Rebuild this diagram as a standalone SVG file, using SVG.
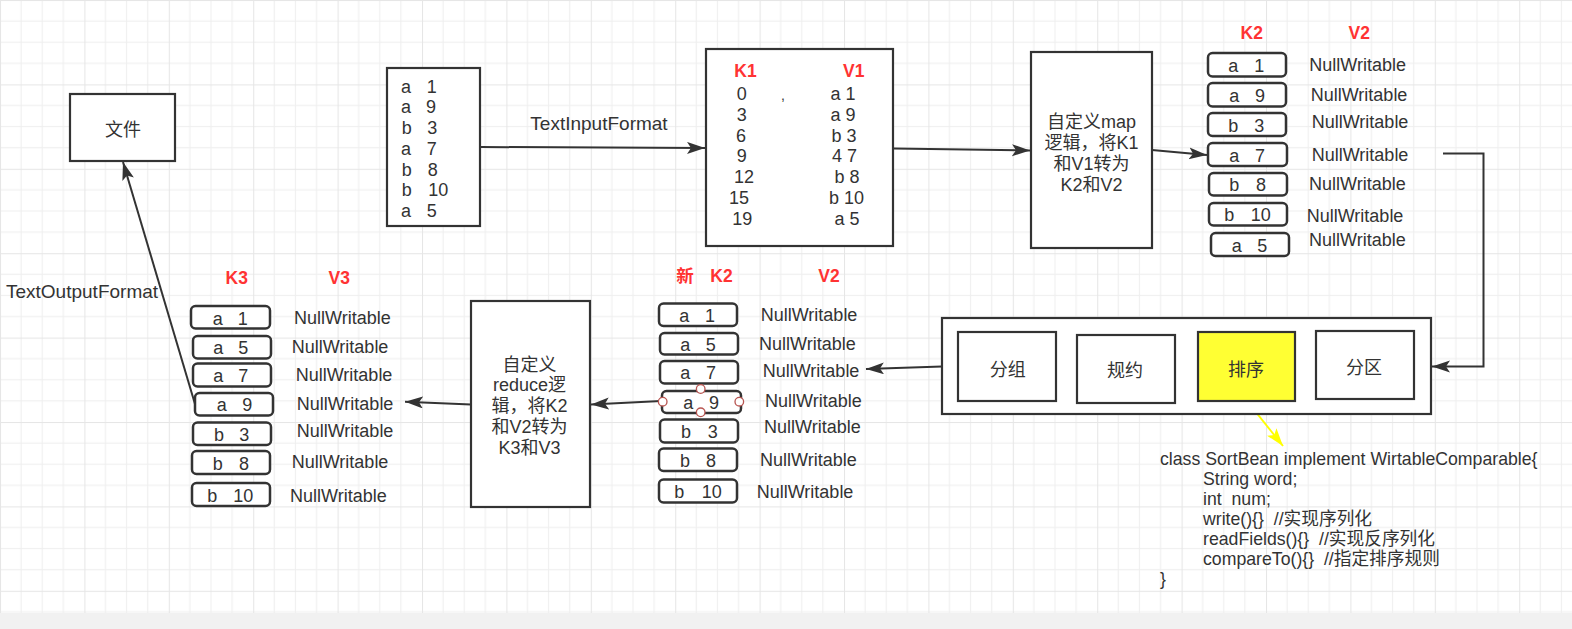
<svg xmlns="http://www.w3.org/2000/svg" width="1572" height="629" viewBox="0 0 1572 629">
<style>
.box{fill:#fff;stroke:#333;stroke-width:2.2}
.rb{fill:#fff;stroke:#333;stroke-width:2.5}
.t{font-family:"Liberation Sans","Noto Sans CJK SC",sans-serif;fill:#333;font-size:18px}
.m{text-anchor:middle}
.lb{font-size:19px}
.code{font-size:17.7px}
.red{fill:#ff3333;font-weight:bold;font-size:17.5px}
.conn{stroke:#333;stroke-width:2;fill:none}
.hd{fill:#fff;stroke:#b85450;stroke-width:1.3}
</style>
<defs>
<pattern id="grid" patternUnits="userSpaceOnUse" width="84.4" height="84.4">
<rect width="84.4" height="84.4" fill="#fff"/>
<g fill="#efefef">
<rect x="20.6" y="0" width="1" height="84.4"/><rect x="41.7" y="0" width="1" height="84.4"/><rect x="62.8" y="0" width="1" height="84.4"/>
<rect x="0" y="20.6" width="84.4" height="1"/><rect x="0" y="41.7" width="84.4" height="1"/><rect x="0" y="62.8" width="84.4" height="1"/>
</g>
<g fill="#e6e6e6"><rect x="0" y="0" width="1" height="84.4"/><rect x="0" y="0" width="84.4" height="1"/></g>
</pattern>
<marker id="arr" markerUnits="userSpaceOnUse" markerWidth="20" markerHeight="14" refX="18" refY="6" orient="auto" viewBox="0 0 20 14">
<path d="M0,0 L18,6 L0,12 L4,6 Z" fill="#333"/>
</marker>
<marker id="arrY" markerUnits="userSpaceOnUse" markerWidth="20" markerHeight="14" refX="18" refY="6" orient="auto" viewBox="0 0 20 14">
<path d="M0,0 L18,6 L0,12 L4,6 Z" fill="#ffff00"/>
</marker>
</defs>
<rect x="0" y="0" width="1572" height="629" fill="#f1f1f1"/>
<rect x="0" y="0" width="1572" height="613" fill="url(#grid)"/>

<g id="connectors">
<path class="conn" d="M481,147 L705,148" marker-end="url(#arr)"/>
<path class="conn" d="M894,148.5 L1030,150.5" marker-end="url(#arr)"/>
<path class="conn" d="M1152,150 L1207,155" marker-end="url(#arr)"/>
<path class="conn" d="M1443,153.5 H1483.5 V366.5 H1432" marker-end="url(#arr)"/>
<path class="conn" d="M942,366.5 L866,369" marker-end="url(#arr)"/>
<path class="conn" d="M661,401 L591,404.5" marker-end="url(#arr)"/>
<path class="conn" d="M471,404.5 L405,401.7" marker-end="url(#arr)"/>
<path class="conn" d="M195,404 L123,162" marker-end="url(#arr)"/>
<path d="M1247,401 L1283,446" stroke="#ffff00" stroke-width="2" fill="none" marker-end="url(#arrY)"/>
<text class="t lb m" x="599" y="130">TextInputFormat</text>
<text class="t lb" x="6" y="298">TextOutputFormat</text>
</g>

<g id="input">
<rect class="box" x="387" y="68" width="93" height="158"/>
<g class="t m">
<text x="406" y="92.5">a</text><text x="431.7" y="92.5">1</text>
<text x="406" y="113">a</text><text x="431" y="113">9</text>
<text x="406.7" y="134">b</text><text x="432.3" y="134">3</text>
<text x="406" y="155">a</text><text x="431.7" y="155">7</text>
<text x="406.7" y="175.5">b</text><text x="432.7" y="175.5">8</text>
<text x="406.7" y="196">b</text><text x="438.3" y="196">10</text>
<text x="406" y="217">a</text><text x="431.7" y="217">5</text>
</g>
</g>

<g id="k1v1">
<rect class="box" x="706" y="49" width="187" height="197"/>
<text class="t red m" x="745.5" y="77">K1</text>
<text class="t red m" x="853.8" y="77">V1</text>
<g class="t m">
<text x="741.7" y="100">0</text><text x="843" y="100">a 1</text>
<text x="741.7" y="120.8">3</text><text x="843" y="120.8">a 9</text>
<text x="741" y="141.6">6</text><text x="844" y="141.6">b 3</text>
<text x="741.7" y="162.4">9</text><text x="844.5" y="162.4">4 7</text>
<text x="744" y="183.2">12</text><text x="847" y="183.2">b 8</text>
<text x="739" y="204">15</text><text x="846.5" y="204">b 10</text>
<text x="742.3" y="224.8">19</text><text x="847" y="224.8">a 5</text>
<text x="783" y="100" style="font-size:14px">,</text>
</g>
</g>

<g id="map">
<rect class="box" x="1031" y="52" width="121" height="196"/>
<g class="t m">
<text x="1091.5" y="128">自定义map</text>
<text x="1091.5" y="149">逻辑，将K1</text>
<text x="1091.5" y="170">和V1转为</text>
<text x="1091.5" y="191">K2和V2</text>
</g>
</g>

<g id="k2v2">
<text class="t red m" x="1251.7" y="39">K2</text>
<text class="t red m" x="1359.2" y="39">V2</text>
<rect class="rb" x="1208" y="53" width="78" height="23.5" rx="4.5"/>
<rect class="rb" x="1208" y="83" width="78" height="23.5" rx="4.5"/>
<rect class="rb" x="1208" y="113" width="78" height="23" rx="4.5"/>
<rect class="rb" x="1208" y="143" width="79" height="23" rx="4.5"/>
<rect class="rb" x="1209" y="173" width="78" height="22.5" rx="4.5"/>
<rect class="rb" x="1209" y="203" width="78" height="22.5" rx="4.5"/>
<rect class="rb" x="1211" y="233" width="78" height="23" rx="4.5"/>
<g class="t m">
<text x="1233.3" y="72">a</text><text x="1259.3" y="72">1</text>
<text x="1234.3" y="102">a</text><text x="1260" y="102">9</text>
<text x="1233.3" y="131.5">b</text><text x="1259.3" y="131.5">3</text>
<text x="1234.3" y="161.5">a</text><text x="1260" y="161.5">7</text>
<text x="1234.3" y="191">b</text><text x="1261" y="191">8</text>
<text x="1229.3" y="221">b</text><text x="1260.7" y="221">10</text>
<text x="1236.7" y="251.5">a</text><text x="1262.3" y="251.5">5</text>
</g>
<g class="t">
<text x="1309.3" y="71">NullWritable</text>
<text x="1310.7" y="101">NullWritable</text>
<text x="1311.7" y="127.7">NullWritable</text>
<text x="1311.7" y="160.7">NullWritable</text>
<text x="1309" y="190">NullWritable</text>
<text x="1306.7" y="221.7">NullWritable</text>
<text x="1309" y="246">NullWritable</text>
</g>
</g>

<g id="shuffle">
<rect class="box" x="942" y="318" width="489" height="96"/>
<rect class="box" x="958" y="332" width="98" height="69"/>
<rect class="box" x="1077" y="335" width="98" height="68"/>
<rect class="box" x="1198" y="332" width="97" height="69" style="fill:#ffff33"/>
<rect class="box" x="1316" y="331" width="98" height="68"/>
<g class="t m">
<text x="1007.7" y="375.5">分组</text>
<text x="1125" y="377">规约</text>
<text x="1246" y="375.5">排序</text>
<text x="1364" y="374">分区</text>
</g>
</g>

<g id="sortbean">
<g class="t code">
<text x="1160" y="465">class SortBean implement WirtableComparable{</text>
<text x="1203" y="485">String word;</text>
<text x="1203" y="505" xml:space="preserve">int  num;</text>
<text x="1203" y="525" xml:space="preserve">write(){}  //实现序列化</text>
<text x="1203" y="545" xml:space="preserve">readFields(){}  //实现反序列化</text>
<text x="1203" y="565" xml:space="preserve">compareTo(){}  //指定排序规则</text>
<text x="1160" y="585">}</text>
</g>
</g>

<g id="newk2v2">
<text class="t red m" x="685" y="281.7">新</text>
<text class="t red m" x="721.5" y="281.7">K2</text>
<text class="t red m" x="829" y="281.7">V2</text>
<rect class="rb" x="659" y="303.5" width="78" height="22.5" rx="4.5"/>
<rect class="rb" x="660" y="333" width="78" height="21.5" rx="4.5"/>
<rect class="rb" x="660" y="361" width="78" height="22.5" rx="4.5"/>
<rect class="rb" x="662" y="391" width="79" height="22" rx="4.5"/>
<rect class="rb" x="660" y="419.5" width="78" height="23" rx="4.5"/>
<rect class="rb" x="659" y="448.5" width="78" height="22.5" rx="4.5"/>
<rect class="rb" x="659" y="479.5" width="78" height="23" rx="4.5"/>
<g class="t m">
<text x="684.3" y="322">a</text><text x="710" y="322">1</text>
<text x="685.3" y="351">a</text><text x="710.7" y="351">5</text>
<text x="685.3" y="379">a</text><text x="711" y="379">7</text>
<text x="688.3" y="409">a</text><text x="714" y="409">9</text>
<text x="686" y="438">b</text><text x="712.7" y="438">3</text>
<text x="685" y="467">b</text><text x="711" y="467">8</text>
<text x="679.3" y="498">b</text><text x="711.7" y="498">10</text>
</g>
<g class="t">
<text x="760.7" y="320.7">NullWritable</text>
<text x="759" y="350">NullWritable</text>
<text x="762.7" y="377.3">NullWritable</text>
<text x="765" y="407.3">NullWritable</text>
<text x="764" y="433.3">NullWritable</text>
<text x="760" y="465.7">NullWritable</text>
<text x="756.7" y="498.3">NullWritable</text>
</g>
<circle class="hd" cx="700.7" cy="389" r="4.3"/>
<circle class="hd" cx="662.7" cy="401.7" r="4.3"/>
<circle class="hd" cx="739.3" cy="401.7" r="4.3"/>
<circle class="hd" cx="700.7" cy="412.3" r="4.3"/>
</g>

<g id="reduce">
<rect class="box" x="471" y="301" width="119" height="206"/>
<g class="t m">
<text x="529.5" y="370.5">自定义</text>
<text x="529.5" y="391.3">reduce逻</text>
<text x="529.5" y="412.1">辑，将K2</text>
<text x="529.5" y="432.9">和V2转为</text>
<text x="529.5" y="453.7">K3和V3</text>
</g>
</g>

<g id="k3v3">
<text class="t red m" x="236.7" y="284">K3</text>
<text class="t red m" x="339.2" y="284">V3</text>
<rect class="rb" x="191" y="306" width="79" height="22.5" rx="4.5"/>
<rect class="rb" x="193" y="336" width="78" height="22.5" rx="4.5"/>
<rect class="rb" x="193" y="363.5" width="78" height="23" rx="4.5"/>
<rect class="rb" x="195" y="393" width="78" height="22.5" rx="4.5"/>
<rect class="rb" x="193" y="422.5" width="78" height="22.5" rx="4.5"/>
<rect class="rb" x="192" y="451" width="78" height="23" rx="4.5"/>
<rect class="rb" x="192" y="483" width="78" height="23" rx="4.5"/>
<g class="t m">
<text x="217.7" y="324.5">a</text><text x="242.7" y="324.5">1</text>
<text x="218.3" y="354">a</text><text x="243.3" y="354">5</text>
<text x="218.3" y="382">a</text><text x="243.3" y="382">7</text>
<text x="221.7" y="411">a</text><text x="247.3" y="411">9</text>
<text x="219" y="440.5">b</text><text x="244.3" y="440.5">3</text>
<text x="217.7" y="469.5">b</text><text x="244" y="469.5">8</text>
<text x="212.3" y="501.5">b</text><text x="243.3" y="501.5">10</text>
</g>
<g class="t">
<text x="294" y="324">NullWritable</text>
<text x="291.7" y="352.7">NullWritable</text>
<text x="295.7" y="380.7">NullWritable</text>
<text x="296.7" y="410">NullWritable</text>
<text x="296.7" y="436.7">NullWritable</text>
<text x="291.7" y="468.3">NullWritable</text>
<text x="290" y="501.7">NullWritable</text>
</g>
</g>

<g id="file">
<rect class="box" x="70" y="94" width="105" height="67"/>
<text class="t m" x="123" y="136">文件</text>
</g>
</svg>
